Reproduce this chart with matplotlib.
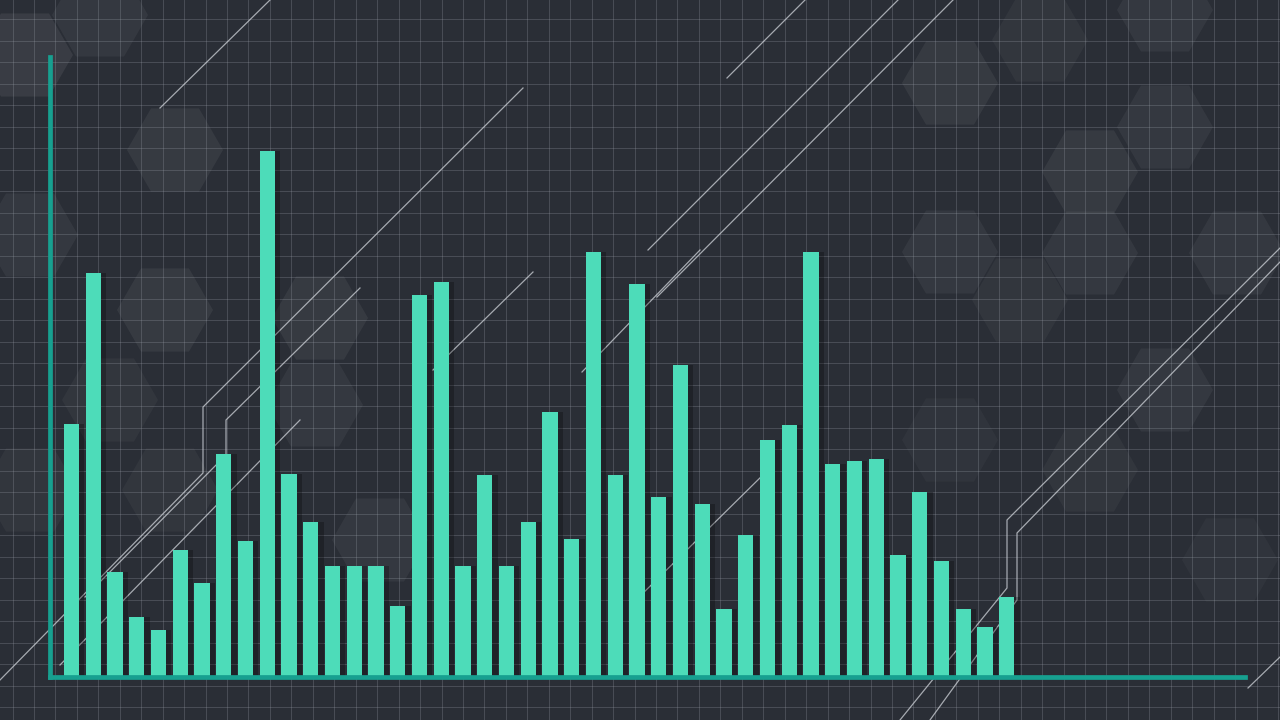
import numpy as np
import matplotlib
matplotlib.use("Agg")
import matplotlib.pyplot as plt
from matplotlib.patches import RegularPolygon

# bar heights (44 bars, no labels)
values = [253, 404, 105, 60, 47, 127, 94, 223, 136, 526, 203, 155, 111, 111,
          111, 71, 382, 395, 111, 202, 111, 155, 265, 138, 425, 202, 393, 180,
          312, 173, 68, 142, 237, 252, 425, 213, 216, 218, 122, 185, 116, 68,
          50, 80]
positions = np.arange(len(values))

# background decoration (pixel coordinates)
hex_centers = [(25, 55), (100, 15), (175, 150), (30, 235), (165, 310),
               (110, 400), (320, 318), (315, 405), (380, 540), (170, 490),
               (30, 490), (950, 83), (1040, 40), (1090, 172), (1165, 127),
               (1090, 253), (950, 252), (1237, 253), (1165, 390), (1090, 470),
               (950, 440), (1230, 560), (1165, 10), (1020, 300)]
hex_alpha = [0.07, 0.05, 0.06, 0.05, 0.06, 0.04, 0.06, 0.05, 0.05, 0.04,
             0.04, 0.06, 0.04, 0.06, 0.05, 0.05, 0.05, 0.05, 0.05, 0.04,
             0.03, 0.03, 0.05, 0.04]
deco_lines = [
    [(160, 108), (270, 0)],
    [(0, 680), (203, 473), (203, 407), (523, 88)],
    [(85, 597), (226, 455), (226, 420), (360, 288)],
    [(60, 665), (300, 420)],
    [(433, 370), (533, 272)],
    [(582, 372), (700, 250)],
    [(648, 250), (898, 0)],
    [(657, 297), (953, 0)],
    [(727, 78), (805, 0)],
    [(633, 603), (768, 470)],
    [(900, 720), (1007, 588), (1007, 520), (1280, 248)],
    [(930, 720), (1017, 600), (1017, 533), (1280, 262)],
    [(1248, 688), (1280, 657)],
]

fig = plt.figure(figsize=(12.8, 7.2), dpi=100)
fig.patch.set_facecolor("#2a2e36")

bg = fig.add_axes([0, 0, 1, 1])
bg.set_xlim(0, 1280)
bg.set_ylim(720, 0)
bg.axis("off")
bg.set_facecolor("#2a2e36")

for (cx, cy), a in zip(hex_centers, hex_alpha):
    bg.add_patch(RegularPolygon((cx, cy), 6, radius=48, orientation=np.pi / 6,
                                facecolor="white", edgecolor="none", alpha=a))

for gx in np.arange(12.5, 1280, 21.45):
    bg.axvline(gx, color="#9aa0aa", lw=0.7, alpha=0.28)
for gy in np.arange(-2.5, 720, 21.5):
    bg.axhline(gy, color="#9aa0aa", lw=0.7, alpha=0.28)

for pts in deco_lines:
    xs, ys = zip(*pts)
    bg.plot(xs, ys, color="#d0d4da", lw=0.9, alpha=0.75)

# chart axes: left spine at x=50, bottom spine at y=677, top 57, right 1245
ax = fig.add_axes([50 / 1280, (720 - 677) / 720, 1195 / 1280, 620 / 720])
ax.patch.set_alpha(0)
step = 21.75
ax.set_xlim(-(71.5 - 50) / step, (1245 - 71.5) / step)
ax.set_ylim(0, 620)

ax.bar(positions + 0.25, values, width=0.69, color="black", alpha=0.25, zorder=2)
ax.bar(positions, values, width=0.69, color="#4ddcb9", zorder=3)

for side in ["top", "right"]:
    ax.spines[side].set_visible(False)
for side in ["left", "bottom"]:
    ax.spines[side].set_color("#17a090")
    ax.spines[side].set_linewidth(3.4)
    ax.spines[side].set_zorder(4)
ax.set_xticks([])
ax.set_yticks([])

fig.savefig("out.png", dpi=100, facecolor=fig.get_facecolor())
